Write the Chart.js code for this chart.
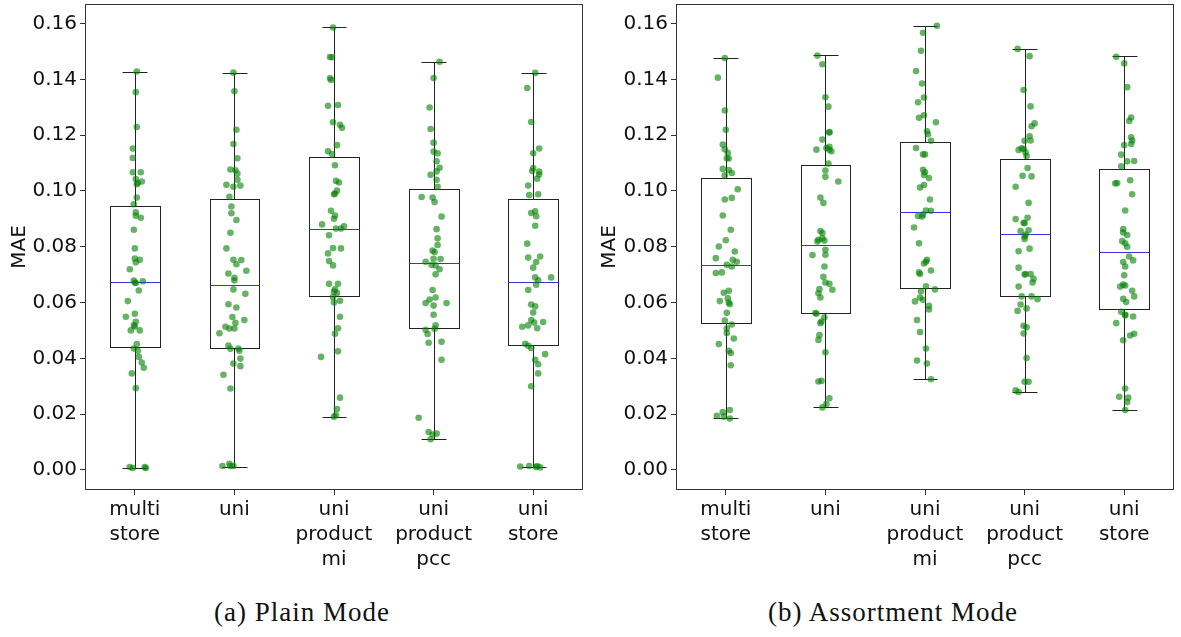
<!DOCTYPE html>
<html>
<head>
<meta charset="utf-8">
<script src="https://cdn.jsdelivr.net/npm/chart.js@4.4.0/dist/chart.umd.min.js"></script>
<style>
  body { margin: 0; background: #fff; width: 1181px; height: 637px; overflow: hidden; position: relative; }
  canvas { position: absolute; top: 0; }
  #c1 { left: 0; }
  #c2 { left: 590px; }
  .cap { position: absolute; top: 597px; font-family: "Liberation Serif", serif; font-size: 27px; letter-spacing: 1px; color: #111; transform: translateX(-50%); white-space: nowrap; }
</style>
</head>
<body>
<canvas id="c1" width="600" height="580"></canvas>
<canvas id="c2" width="591" height="580"></canvas>
<div class="cap" style="left:302px">(a) Plain Mode</div>
<div class="cap" style="left:893px">(b) Assortment Mode</div>
<script>
// ============================
//  DADOS
// ============================

const categories = [['multi', 'store'], ['uni'], ['uni', 'product', 'mi'], ['uni', 'product', 'pcc'], ['uni', 'store']];
const yTicks = [0, 0.02, 0.04, 0.06, 0.08, 0.10, 0.12, 0.14, 0.16];

// box stats: whisker low, q1, median, q3, whisker high
const plainLo  = [0.0007, 0.0012, 0.0191, 0.0111, 0.0010];
const plainQ1  = [0.0442, 0.0437, 0.0623, 0.0509, 0.0448];
const plainMed = [0.0674, 0.0664, 0.0865, 0.0743, 0.0673];
const plainQ3  = [0.0947, 0.0971, 0.1123, 0.1006, 0.0971];
const plainHi  = [0.1428, 0.1424, 0.1586, 0.1463, 0.1423];

const assortLo  = [0.0185, 0.0225, 0.0325, 0.0279, 0.0215];
const assortQ1  = [0.0525, 0.0561, 0.0652, 0.0622, 0.0578];
const assortMed = [0.0734, 0.0805, 0.0923, 0.0845, 0.0782];
const assortQ3  = [0.1045, 0.1092, 0.1174, 0.1116, 0.1077];
const assortHi  = [0.1476, 0.1486, 0.1592, 0.1510, 0.1482];

// points: [jitter, MAE]
const plainMulti = [[.02,.1428],[.01,.1354],[.02,.1229],[-.02,.1152],[-.02,.1118],[-.02,.1067],[.06,.1067],[.01,.1043],[.07,.1034],[.03,.1028],[.02,.1024],[.02,.0976],[-.01,.0952],[.01,.0923],[.01,.0911],[.06,.0904],[-.01,.0861],[0,.0794],[0,.0758],[.05,.0753],[.01,.0744],[-.05,.0719],[-.01,.0679],[.08,.0676],[0,.0672],[.01,.0670],[.04,.0643],[-.07,.0605],[0,.0560],[-.09,.0549],[.01,.0531],[-.01,.0518],[0,.0514],[-.04,.0500],[.05,.0500],[.02,.0451],[-.01,.0435],[.03,.0427],[.04,.0405],[.07,.0385],[.09,.0366],[-.03,.0346],[.01,.0293],[-.05,.0010],[-.02,.0007],[.10,.0010],[.11,.0007]];
const plainUni = [[-.01,.1424],[0,.1357],[.02,.1219],[-.01,.1168],[.03,.1117],[-.04,.1077],[.01,.1074],[.03,.1062],[.03,.1040],[-.08,.1022],[-.01,.1015],[.06,.1019],[-.05,.0979],[-.03,.0944],[-.03,.0920],[.02,.0896],[-.04,.0850],[-.08,.0794],[-.01,.0753],[.07,.0752],[.02,.0737],[.12,.0714],[-.06,.0704],[0,.0689],[0,.0679],[-.01,.0647],[.11,.0631],[-.06,.0594],[.02,.0582],[-.02,.0548],[.10,.0537],[.01,.0527],[-.09,.0513],[-.05,.0507],[0,.0507],[-.15,.0490],[-.06,.0446],[-.04,.0434],[.04,.0435],[.05,.0427],[.06,.0399],[-.01,.0381],[.06,.0372],[-.11,.0341],[-.04,.0292],[-.12,.0014],[-.05,.0022],[-.04,.0014],[-.01,.0014]];
const plainMi = [[-.01,.1586],[-.04,.1480],[-.02,.1479],[-.04,.1404],[-.03,.1398],[-.06,.1305],[.04,.1308],[-.01,.1246],[.06,.1237],[.08,.1226],[.03,.1164],[-.06,.1142],[-.02,.1132],[.01,.1092],[.02,.1036],[.05,.1030],[.03,.1001],[0,.0988],[.01,.0991],[-.03,.0929],[.01,.0912],[0,.0900],[-.12,.0880],[.02,.0865],[.07,.0865],[.10,.0873],[-.05,.0841],[-.01,.0795],[.07,.0794],[-.06,.0776],[-.05,.0749],[-.01,.0733],[-.05,.0667],[.04,.0667],[.01,.0647],[0,.0639],[.03,.0634],[-.01,.0620],[0,.0600],[.06,.0606],[.06,.0549],[.04,.0508],[.01,.0488],[.04,.0425],[-.13,.0405],[.06,.0259],[.03,.0218],[.02,.0196],[0,.0191]];
const plainPcc = [[.06,.1463],[0,.1405],[-.04,.1299],[-.03,.1222],[0,.1173],[0,.1141],[.04,.1135],[.03,.1106],[.06,.1083],[.03,.1070],[-.03,.1058],[.03,.1040],[.04,.1015],[-.12,.0978],[-.01,.0976],[.01,.0960],[.08,.0908],[.03,.0863],[.04,.0830],[.04,.0806],[-.01,.0786],[.01,.0781],[.07,.0756],[0,.0757],[-.08,.0746],[-.02,.0735],[.02,.0733],[.06,.0719],[.02,.0701],[-.01,.0645],[.02,.0618],[-.04,.0611],[-.08,.0598],[0,.0589],[.13,.0598],[0,.0556],[.02,.0518],[-.08,.0502],[-.06,.0487],[.01,.0506],[-.05,.0456],[.08,.0459],[.08,.0395],[-.15,.0187],[-.05,.0136],[.03,.0130],[-.01,.0127],[-.03,.0110]];
const plainStore = [[.02,.1423],[-.06,.1369],[-.02,.1247],[.06,.1152],[0,.1135],[0,.1082],[-.01,.1071],[.06,.1069],[.06,.1059],[.04,.1044],[-.05,.1019],[-.04,.0985],[.05,.0988],[-.02,.0921],[.02,.0927],[.03,.0909],[.02,.0875],[-.06,.0811],[-.05,.0761],[.07,.0765],[.03,.0745],[0,.0725],[.02,.0690],[.18,.0690],[.05,.0680],[.03,.0664],[-.05,.0645],[-.02,.0593],[.02,.0586],[0,.0564],[-.02,.0537],[.10,.0530],[.01,.0528],[-.05,.0518],[-.11,.0513],[.04,.0508],[-.08,.0452],[-.05,.0445],[-.02,.0437],[.12,.0415],[.02,.0395],[.05,.0379],[.05,.0346],[-.02,.0300],[-.13,.0012],[-.04,.0014],[.04,.0014],[.03,.0010],[.07,.0009]];

const assortMulti = [[-.01,.1476],[-.08,.1406],[-.01,.1288],[0,.1219],[-.03,.1166],[-.01,.1149],[.02,.1136],[.01,.1117],[.03,.1116],[-.03,.1079],[.03,.1075],[.06,.1064],[-.01,.1056],[.12,.1006],[.06,.0975],[-.01,.0969],[-.03,.0912],[.05,.0861],[0,.0823],[-.07,.0801],[.09,.0783],[-.10,.0759],[.07,.0753],[.11,.0746],[.01,.0735],[.06,.0729],[-.10,.0706],[-.04,.0708],[-.02,.0635],[.03,.0642],[-.06,.0605],[.02,.0615],[.03,.0600],[.04,.0594],[.01,.0563],[-.01,.0535],[.06,.0521],[.01,.0507],[.01,.0491],[.08,.0471],[-.07,.0451],[.03,.0427],[.05,.0419],[.05,.0375],[.04,.0215],[-.03,.0207],[-.09,.0194],[-.02,.0191],[.04,.0184]];
const assortUni = [[-.08,.1485],[-.03,.1454],[0,.1336],[.03,.1302],[.04,.1211],[.04,.1209],[-.03,.1184],[-.09,.1148],[.01,.1154],[.04,.1158],[.06,.1142],[.04,.1148],[.03,.1098],[0,.1073],[0,.1051],[.13,.1034],[-.05,.0976],[-.02,.0957],[-.05,.0856],[-.03,.0849],[-.07,.0825],[-.03,.0830],[-.01,.0822],[-.08,.0819],[0,.0789],[0,.0771],[-.13,.0770],[-.01,.0729],[-.02,.0692],[0,.0672],[.04,.0667],[.07,.0646],[-.06,.0648],[-.07,.0633],[-.05,.0618],[-.10,.0562],[-.09,.0560],[-.01,.0547],[-.04,.0532],[-.05,.0526],[-.06,.0483],[-.07,.0466],[0,.0422],[-.07,.0317],[-.04,.0319],[.04,.0257],[.01,.0236],[-.03,.0224]];
const assortMi = [[.12,.1592],[-.02,.1567],[-.04,.1502],[-.09,.1430],[-.03,.1385],[-.01,.1335],[-.07,.1318],[-.01,.1271],[-.06,.1262],[.11,.1246],[.02,.1214],[.03,.1203],[.06,.1180],[-.09,.1154],[-.02,.1131],[0,.1131],[-.02,.1076],[0,.1067],[-.01,.1057],[.04,.1046],[-.01,.1021],[-.05,.1012],[.05,.0969],[.01,.0930],[.06,.0929],[-.02,.0915],[-.07,.0910],[-.03,.0908],[-.11,.0869],[-.06,.0812],[.02,.0753],[.01,.0746],[-.01,.0740],[.06,.0715],[-.06,.0708],[-.05,.0702],[.01,.0658],[.10,.0647],[-.04,.0640],[-.02,.0610],[-.05,.0618],[-.10,.0604],[.04,.0588],[.04,.0575],[-.08,.0537],[-.05,.0494],[.01,.0435],[-.08,.0392],[.02,.0381],[.06,.0325]];
const assortPcc = [[-.07,.1509],[.05,.1483],[-.01,.1362],[.06,.1303],[.10,.1242],[.07,.1232],[.05,.1196],[.06,.1181],[0,.1180],[-.03,.1153],[-.06,.1147],[-.01,.1150],[.01,.1138],[.02,.1125],[.03,.1082],[-.02,.1054],[.07,.1052],[-.09,.1015],[.04,.0957],[-.09,.0899],[.03,.0904],[-.01,.0886],[0,.0884],[-.04,.0856],[.04,.0859],[.01,.0844],[0,.0837],[0,.0828],[.05,.0793],[-.06,.0784],[-.06,.0725],[0,.0700],[.01,.0702],[.06,.0702],[.09,.0685],[.08,.0672],[-.06,.0657],[-.03,.0622],[.07,.0622],[.13,.0612],[-.04,.0593],[.02,.0579],[-.07,.0570],[-.01,.0517],[.02,.0511],[-.01,.0489],[.02,.0401],[0,.0316],[.04,.0316],[-.09,.0285],[-.06,.0279]];
const assortStore = [[-.08,.1481],[0,.1457],[.03,.1372],[.07,.1263],[.05,.1251],[.07,.1192],[.08,.1181],[.07,.1168],[0,.1164],[-.03,.1130],[.03,.1106],[.10,.1107],[-.03,.1088],[.06,.1038],[-.09,.1027],[-.07,.1028],[.08,.0988],[.01,.0930],[-.01,.0863],[-.01,.0851],[.03,.0842],[-.02,.0820],[.01,.0812],[.03,.0800],[.05,.0765],[-.01,.0745],[.09,.0751],[.01,.0729],[0,.0698],[-.04,.0657],[.01,.0661],[-.01,.0664],[.08,.0642],[.10,.0622],[-.01,.0613],[.02,.0602],[-.03,.0567],[.01,.0556],[.09,.0550],[.01,.0554],[-.08,.0526],[-.01,.0465],[.06,.0482],[.10,.0488],[.01,.0292],[-.05,.0262],[.04,.0259],[.03,.0243],[.01,.0215]];

// ============================
//  BOX PLOT (plugin)
// ============================

function boxPlugin(lo, q1, med, q3, hi) {
    return {
        id: 'boxes',
        beforeDatasetsDraw(chart) {
            const { ctx, scales: { x, y } } = chart;
            const py = v => Math.round(y.getPixelForValue(v)) + 0.5;
            const px = v => Math.round(x.getPixelForValue(v)) + 0.5;
            ctx.save();
            ctx.lineWidth = 1;
            for (let i = 0; i < q1.length; i++) {
                const cx = px(i), l = px(i - 0.25), r = px(i + 0.25);
                const cl = px(i - 0.125), cr = px(i + 0.125);
                ctx.strokeStyle = '#222';
                ctx.beginPath();
                // whiskers
                ctx.moveTo(cx, py(hi[i])); ctx.lineTo(cx, py(q3[i]));
                ctx.moveTo(cx, py(q1[i])); ctx.lineTo(cx, py(lo[i]));
                // caps
                ctx.moveTo(cl, py(hi[i])); ctx.lineTo(cr, py(hi[i]));
                ctx.moveTo(cl, py(lo[i])); ctx.lineTo(cr, py(lo[i]));
                ctx.stroke();
                ctx.strokeRect(l, py(q3[i]), r - l, py(q1[i]) - py(q3[i]));
                // median
                ctx.strokeStyle = '#3434e0';
                ctx.beginPath();
                ctx.moveTo(l, py(med[i])); ctx.lineTo(r, py(med[i]));
                ctx.stroke();
            }
            ctx.restore();
        },
        afterDraw(chart) {
            const { ctx, chartArea: a } = chart;
            ctx.save();
            ctx.strokeStyle = '#333';
            ctx.lineWidth = 1;
            ctx.strokeRect(Math.round(a.left) + 0.5, Math.round(a.top) + 0.5,
                Math.round(a.right - a.left) - 1, Math.round(a.bottom - a.top) - 1);
            ctx.restore();
        }
    };
}

function makePanel(id, groups, lo, q1, med, q3, hi, yAxisWidth, padRight) {
    const points = [];
    groups.forEach((g, i) => g.forEach(p => points.push({ x: i + p[0], y: p[1] })));

    const tickFont = { family: 'DejaVu Sans', size: 20 };

    return new Chart(document.getElementById(id), {
        type: 'scatter',
        data: {
            datasets: [{
                data: points,
                backgroundColor: 'rgba(0,128,0,0.6)',
                borderWidth: 0,
                pointRadius: 3.3
            }]
        },
        options: {
            responsive: false,
            animation: false,
            devicePixelRatio: 1,
            layout: { padding: { top: 4, right: padRight, left: 0, bottom: 0 } },
            plugins: { legend: { display: false }, tooltip: { enabled: false } },
            scales: {
                x: {
                    type: 'linear',
                    min: -0.5, max: 4.5,
                    afterBuildTicks: s => { s.ticks = categories.map((c, i) => ({ value: i })); },
                    afterFit: s => { s.height = 90; s.paddingLeft = 0; s.paddingRight = 0; },
                    grid: { drawOnChartArea: false, tickLength: 5, color: '#333' },
                    border: { display: false },
                    ticks: {
                        font: { ...tickFont, lineHeight: 1.25 },
                        color: '#111',
                        padding: 2,
                        maxRotation: 0,
                        callback: (v, i) => categories[i]
                    }
                },
                y: {
                    min: -0.0072, max: 0.167,
                    afterBuildTicks: s => { s.ticks = yTicks.map(v => ({ value: v })); },
                    afterFit: s => { s.width = yAxisWidth; s.paddingTop = 0; s.paddingBottom = 0; },
                    grid: { drawOnChartArea: false, tickLength: 5, color: '#333' },
                    border: { display: false },
                    title: { display: true, text: 'MAE', font: tickFont, color: '#111', padding: { top: 8, bottom: 0 } },
                    ticks: {
                        font: tickFont,
                        color: '#111',
                        padding: 3,
                        callback: v => v.toFixed(2)
                    }
                }
            }
        },
        plugins: [boxPlugin(lo, q1, med, q3, hi)]
    });
}

makePanel('c1', [plainMulti, plainUni, plainMi, plainPcc, plainStore],
    plainLo, plainQ1, plainMed, plainQ3, plainHi, 85, 17);
makePanel('c2', [assortMulti, assortUni, assortMi, assortPcc, assortStore],
    assortLo, assortQ1, assortMed, assortQ3, assortHi, 86, 7);
</script>
</body>
</html>
